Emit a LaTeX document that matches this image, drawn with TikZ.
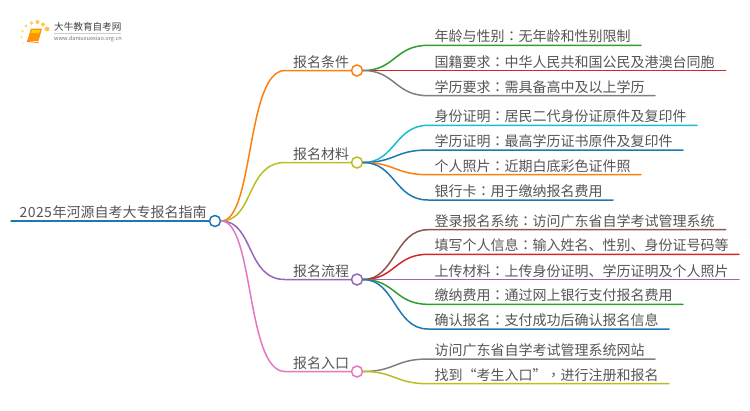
\documentclass[tikz,border=0pt]{standalone}
\usepackage{fontspec}
\setmainfont{Noto Sans CJK SC}
\newfontfamily\tcfont{Noto Sans CJK TC}
\newcommand{\cc}{{\tcfont ：}}
\newcommand{\cm}{{\tcfont ，}}
\definecolor{cOrange}{HTML}{FF7F0E}
\definecolor{cOlive}{HTML}{BCBD22}
\definecolor{cPurple}{HTML}{9467BD}
\definecolor{cPink}{HTML}{E377C2}
\definecolor{cGreen}{HTML}{2CA02C}
\definecolor{cRed}{HTML}{D62728}
\definecolor{cGrey}{HTML}{7F7F7F}
\definecolor{cCyan}{HTML}{17BECF}
\definecolor{cBlue}{HTML}{1F77B4}
\definecolor{cBrown}{HTML}{8C564B}
\definecolor{cText}{HTML}{555555}
\tikzset{
  link/.style={line width=1.5pt,line cap=round},
  hub/.style={circle,draw=#1,fill=white,line width=1.5pt,minimum size=11pt,inner sep=0pt},
  label/.style={anchor=base west,inner sep=0pt,text=cText,font=\fontsize{14}{14}\selectfont},
}
\newcommand{\leaf}[6]{% name, hub, hub y, y, end x, colour
  \coordinate (#1-s) at (428,#4);
  \coordinate (#1-e) at (#5,#4);
  \draw[link,#6] (#2.east) .. controls (395,#3) and (395,#4) .. (#1-s) -- (#1-e);
}
\newcommand{\leaftext}[3]{\node[label] (#1) at (434.5,#2-3.5) {#3};}
\begin{document}
\begin{tikzpicture}[x=1pt,y=-1pt]
\useasboundingbox (0,0) rectangle (750,410);
% logo
\foreach \x/\y/\r/\o in {47/29/2.4/0.75,43/24.5/2/0.7,37.5/22/2/0.7,31.5/23/1.9/0.65,26/26/1.7/0.55,22.5/31/1.5/0.45,21.5/37/1.3/0.35,23.5/43/1.1/0.25}
  \fill[orange!60!yellow,opacity=\o] (\x,\y) circle[radius=\r];
\fill[orange!85!yellow] (31,28.5) -- (42,28.5) -- (38.5,41) -- (27,41.5) -- cycle;
\fill[orange!35!yellow] (32,30) -- (40,30) -- (39,33) -- (31,33) -- cycle;
\draw[orange!70!red,line width=0.6pt] (27,41.5) -- (38.5,42.5);
\node[anchor=west,inner sep=0pt,text=black!75,font=\fontsize{9.6}{10}\selectfont] (brand) at (54,27) {大牛教育自考网};
\coordinate (ruleA) at (54,33);
\coordinate (ruleB) at (121,33);
\draw[black!20,line width=0.5pt] (ruleA) -- (ruleB);
\node[anchor=west,inner sep=0pt,text=black!55,font=\fontsize{5.6}{6}\selectfont] (site) at (54,38.5) {www.daniuxuexiao.org.cn};
% hubs
\node[hub=cBlue] (root) at (215,221) {};
\node[hub=cOrange] (h1) at (357,70.5) {};
\node[hub=cOlive] (h2) at (357,162.5) {};
\node[hub=cPurple] (h3) at (357,279.5) {};
\node[hub=cPink] (h4) at (357,371.5) {};
% root
\coordinate (rootStart) at (11,221);
\draw[link,cBlue] (rootStart) -- (root.west);
\node[label] (rootText) at (19.5,217.5) {2\kern0.4pt 0\kern0.4pt 2\kern0.4pt 5\kern0.6pt 年河源自考大专报名指南};
% first level
\newcommand{\branch}[4]{%
  \coordinate (#1-s) at (285,#2);
  \draw[link,#3] (root.east) .. controls (254,221) and (246,#2) .. (#1-s) -- (#4.west);
}
\branch{b1}{70.5}{cOrange}{h1}
\branch{b2}{162.5}{cOlive}{h2}
\branch{b3}{279.5}{cPurple}{h3}
\branch{b4}{371.5}{cPink}{h4}
\node[label] (t1) at (293,67) {报名条件};
\node[label] (t2) at (293,159) {报名材料};
\node[label] (t3) at (293,276) {报名流程};
\node[label] (t4) at (293,368) {报名入口};
% leaves
\leaf{a1}{h1}{70.5}{45.3}{641}{cGreen}
\leaf{a2}{h1}{70.5}{70.5}{725.7}{cRed}
\leaf{a3}{h1}{70.5}{95.7}{655}{cGrey}
\leaf{m1}{h2}{162.5}{125.3}{697}{cCyan}
\leaf{m2}{h2}{162.5}{150}{683}{cBlue}
\leaf{m3}{h2}{162.5}{174.7}{641}{cOrange}
\leaf{m4}{h2}{162.5}{200}{613}{cBlue}
\leaf{p1}{h3}{279.5}{229.7}{725.7}{cBrown}
\leaf{p2}{h3}{279.5}{254.3}{739}{cRed}
\leaf{p3}{h3}{279.5}{279.5}{739}{cPurple}
\leaf{p4}{h3}{279.5}{304.3}{683}{cGreen}
\leaf{p5}{h3}{279.5}{329}{669}{cBlue}
\leaf{e1}{h4}{371.5}{359}{655}{cGrey}
\leaf{e2}{h4}{371.5}{383.7}{669}{cOlive}
\leaftext{ta1}{45.3}{年龄与性别\cc 无年龄和性别限制}
\leaftext{ta2}{70.5}{国籍要求\cc 中华人民共和国公民及港澳台同胞}
\leaftext{ta3}{95.7}{学历要求\cc 需具备高中及以上学历}
\leaftext{tm1}{125.3}{身份证明\cc 居民二代身份证原件及复印件}
\leaftext{tm2}{150}{学历证明\cc 最高学历证书原件及复印件}
\leaftext{tm3}{174.7}{个人照片\cc 近期白底彩色证件照}
\leaftext{tm4}{200}{银行卡\cc 用于缴纳报名费用}
\leaftext{tp1}{229.7}{登录报名系统\cc 访问广东省自学考试管理系统}
\leaftext{tp2}{254.3}{填写个人信息\cc 输入姓名、性别、身份证号码等}
\leaftext{tp3}{279.5}{上传材料\cc 上传身份证明、学历证明及个人照片}
\leaftext{tp4}{304.3}{缴纳费用\cc 通过网上银行支付报名费用}
\leaftext{tp5}{329}{确认报名\cc 支付成功后确认报名信息}
\leaftext{te1}{359}{访问广东省自学考试管理系统网站}
\leaftext{te2}{383.7}{找到“考生入口”\cm 进行注册和报名}
\end{tikzpicture}
\end{document}
